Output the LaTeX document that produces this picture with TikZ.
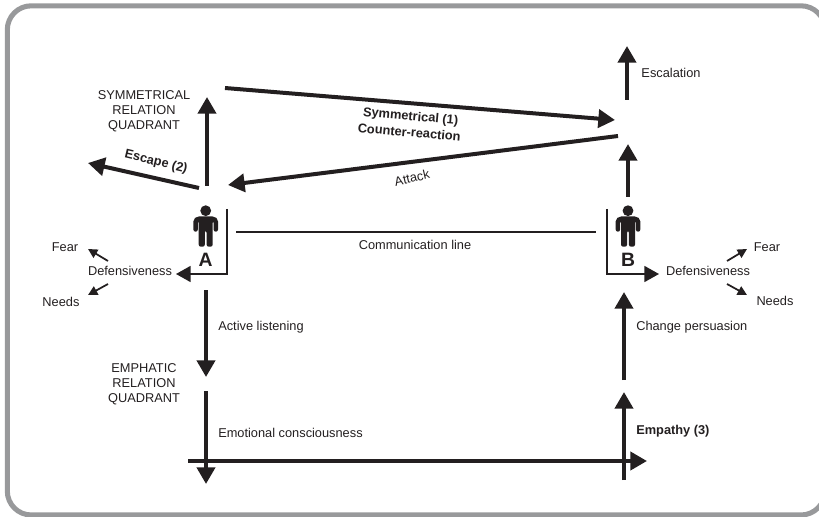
\documentclass[tikz,border=0pt]{standalone}
\usepackage{fontspec}
\setmainfont{Liberation Sans}
\usetikzlibrary{arrows.meta}
\definecolor{ink}{HTML}{231F20}
\definecolor{framegray}{HTML}{98999B}
\tikzset{
  big/.style={draw=ink,line width=3pt,-{Triangle[length=12.5pt,width=13.5pt]}},
  thin arrow/.style={draw=ink,line width=1.3pt,-{Triangle[length=7pt,width=7pt]}},
  mid arrow/.style={draw=ink,line width=1.3pt,-{Triangle[length=11pt,width=12pt]}},
  lbl/.style={text=ink,font=\fontsize{9.6}{11.25}\selectfont,inner sep=0pt,align=center},
  blbl/.style={text=ink,font=\fontsize{9.6}{12.3}\selectfont\bfseries,inner sep=0pt,align=center},
  letter/.style={text=ink,font=\fontsize{14.5}{16}\selectfont\bfseries,inner sep=0pt},
  person/.pic={
    \fill[ink] (0,0) circle (5.4);
    \fill[ink,rounded corners=1.6] (-12.3,21) -- (-12.3,8.5) -- (-9,5.8) -- (9,5.8) -- (12.3,8.5) -- (12.3,21) -- (7.9,21) -- (7.9,10) -- (7,10) -- (7,36) -- (0.9,36) -- (0.9,20) -- (-0.9,20) -- (-0.9,36) -- (-7,36) -- (-7,10) -- (-7.9,10) -- (-7.9,21) -- cycle;
  }
}
\begin{document}
\begin{tikzpicture}[x=0.75pt,y=-0.75pt]
\useasboundingbox (0,0) rectangle (819,517);
\clip (0,0) rectangle (819,517);
\draw[framegray,line width=3.8pt,rounded corners=18pt] (7.3,5.8) rectangle (825,515);

% named end points
\coordinate (sA) at (225,88);   \coordinate (sB) at (615,120);
\coordinate (aB) at (618,136);  \coordinate (aA) at (228,185);
\coordinate (upB1) at (628,197);\coordinate (upB2) at (628,144);
\coordinate (esc1) at (627,100);\coordinate (esc2) at (627,46);
\coordinate (upA1) at (207,186);\coordinate (upA2) at (207,97);
\coordinate (ex1) at (199,188); \coordinate (ex2) at (88,163);
\coordinate (dn1) at (206,290); \coordinate (dn2) at (206,377);
\coordinate (dn3) at (206,391); \coordinate (dn4) at (206,484);
\coordinate (h1) at (188,461);  \coordinate (h2) at (647,461);
\coordinate (u1) at (624,480);  \coordinate (u2) at (624,392);
\coordinate (u3) at (624,380);  \coordinate (u4) at (624,292);
\coordinate (cl1) at (236,232); \coordinate (cl2) at (596,232);
\coordinate (brA1) at (227,209);\coordinate (brA2) at (227,274);\coordinate (brA3) at (176,274);
\coordinate (brB1) at (607,209);\coordinate (brB2) at (607,274);\coordinate (brB3) at (659,274);
\coordinate (lf1) at (108,261); \coordinate (lf2) at (88,249);
\coordinate (ln1) at (108,284); \coordinate (ln2) at (88,295);
\coordinate (rf1) at (727,261); \coordinate (rf2) at (747,249);
\coordinate (rn1) at (727,284); \coordinate (rn2) at (747,295);

% main arrows
\draw[big] (sA) -- (sB);
\draw[big] (aB) -- (aA);
\draw[big] (upB1) -- (upB2);
\draw[big] (esc1) -- (esc2);
\draw[big] (upA1) -- (upA2);
\draw[big] (ex1) -- (ex2);
\draw[big] (dn1) -- (dn2);
\draw[big] (dn3) -- (dn4);
\draw[big] (h1) -- (h2);
\draw[big] (u1) -- (u2);
\draw[big] (u3) -- (u4);

% communication line and brackets
\draw[ink,line width=1.4pt] (cl1) -- (cl2);
\draw[mid arrow] (brA1) -- (brA2) -- (brA3);
\draw[mid arrow] (brB1) -- (brB2) -- (brB3);

% small arrows
\draw[thin arrow] (lf1) -- (lf2);
\draw[thin arrow] (ln1) -- (ln2);
\draw[thin arrow] (rf1) -- (rf2);
\draw[thin arrow] (rn1) -- (rn2);

% persons
\pic at (205.7,210.7) {person};
\pic at (628,210.7) {person};
\node[letter] (labA) at (205.5,260) {A};
\node[letter] (labB) at (628,260) {B};

% labels
\node[lbl] (t1) at (144,111.5) {SYMMETRICAL\\RELATION\\QUADRANT};
\node[lbl] (t2) at (144,384) {EMPHATIC\\RELATION\\QUADRANT};
\node[lbl] (t3) at (671,73) {Escalation};
\node[blbl,rotate=-5] (t4) at (410,124) {Symmetrical (1)\\Counter-reaction};
\node[lbl,rotate=13] (t5) at (412,178) {Attack};
\node[blbl,rotate=-13.5] (t6) at (156,162) {Escape (2)};
\node[lbl] (t7) at (415,245) {Communication line};
\node[lbl] (t8) at (130,271) {Defensiveness};
\node[lbl] (t9) at (65,247) {Fear};
\node[lbl] (t10) at (61,301.5) {Needs};
\node[lbl] (t11) at (708,271) {Defensiveness};
\node[lbl] (t12) at (767,247) {Fear};
\node[lbl] (t13) at (775,301) {Needs};
\node[lbl,anchor=west] (t14) at (218,327) {Active listening};
\node[lbl,anchor=west] (t15) at (218,433) {Emotional consciousness};
\node[lbl,anchor=west] (t16) at (636,327) {Change persuasion};
\node[blbl,anchor=west] (t17) at (636,431.5) {Empathy (3)};
\end{tikzpicture}
\end{document}
